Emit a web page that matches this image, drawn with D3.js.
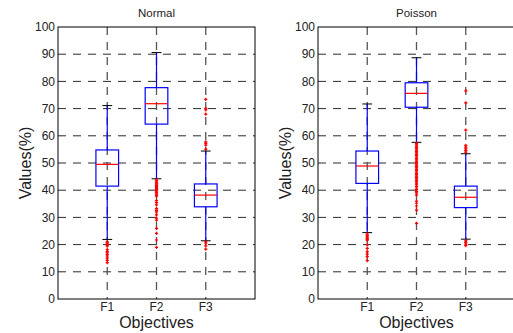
<!DOCTYPE html>
<html>
<head>
<meta charset="utf-8">
<script src="https://cdn.jsdelivr.net/npm/d3@7"></script>
<style>
  body { margin: 0; background: #fff; }
  svg { display: block; font-family: "Liberation Sans", Arial, sans-serif; }
</style>
</head>
<body>
<svg id="chart" width="513" height="333"></svg>
<script>
// categories and tick labels
const categories = ["F1", "F2", "F3"];
const yTicks = [0, 10, 20, 30, 40, 50, 60, 70, 80, 90, 100];
const panelTitles = ["Normal", "Poisson"];

// box statistics per objective: [lower whisker, Q1, median, Q3, upper whisker]
const normalStats = [
    [21.9, 41.5, 49.5, 54.8, 71.1],
    [44.2, 64.3, 71.8, 77.7, 90.6],
    [21.4, 33.9, 38.2, 42.3, 54.4]
];
const poissonStats = [
    [24.4, 42.5, 48.9, 54.4, 71.7],
    [57.6, 70.5, 75.6, 79.5, 88.7],
    [22.0, 33.6, 37.4, 41.5, 53.4]
];

// outliers per objective
const normalOutliers = [
    [21.0, 20.6, 20.2, 19.8, 19.4, 18.2, 17.5, 17.0, 16.4, 15.8, 15.0, 14.2, 13.4],
    [43.8, 43.4, 43.0, 42.6, 42.2, 41.8, 41.4, 41.0, 40.6, 40.2, 39.8, 39.4, 39.0,
     38.6, 38.2, 37.8, 36.2, 35.4, 34.6, 33.2, 32.6, 32.0, 30.9, 29.7, 29.0, 26.0,
     24.1, 21.7, 19.0],
    [73.4, 70.1, 69.5, 68.0, 57.8, 57.2, 56.6, 55.1, 21.0, 20.5, 19.5, 18.3]
];
const poissonOutliers = [
    [23.9, 23.5, 23.1, 22.7, 22.3, 21.9, 21.6, 19.9, 18.6, 17.4, 16.5, 15.6, 14.1],
    [57.2, 56.7, 56.2, 55.7, 55.2, 54.7, 54.2, 53.7, 53.2, 52.7, 52.2, 51.7, 51.2,
     50.7, 50.2, 49.7, 49.2, 48.7, 48.2, 47.7, 47.2, 46.7, 46.2, 45.7, 45.2, 44.7,
     44.2, 43.7, 43.2, 42.6, 42.0, 41.4, 40.8, 40.2, 39.6, 39.0, 38.2, 36.0, 35.2,
     34.2, 32.7, 27.8],
    [76.5, 72.1, 62.1, 56.5, 55.8, 55.2, 54.6, 54.0, 21.4, 20.8, 20.2, 19.6]
];

const svg = d3.select("#chart");
const plotW = 197, plotTop = 27, plotBottom = 299;

const y = d3.scaleLinear().domain([0, 100]).range([plotBottom, plotTop]);

function drawPanel(left, title, stats, outliers) {
    const x = d3.scaleLinear().domain([0, 4]).range([left, left + plotW]);
    const g = svg.append("g");

    // dashed grid lines
    g.selectAll(".hgrid")
        .data(yTicks.filter(d => d > 0 && d < 100))
        .enter().append("line")
        .attr("x1", left).attr("x2", left + plotW)
        .attr("y1", d => y(d)).attr("y2", d => y(d))
        .attr("stroke", "#2a2a2a").attr("stroke-dasharray", "8,7");
    g.selectAll(".vgrid")
        .data([1, 2, 3])
        .enter().append("line")
        .attr("x1", d => x(d)).attr("x2", d => x(d))
        .attr("y1", plotTop).attr("y2", plotBottom)
        .attr("stroke", "#555").attr("stroke-width", 1.3).attr("stroke-dasharray", "8,7");

    const boxW = 0.46, capW = 0.2;
    stats.forEach((s, i) => {
        const cx = x(i + 1);
        const hw = (x(boxW) - x(0)) / 2;
        const cw = (x(capW) - x(0)) / 2;
        // whiskers
        g.append("line").attr("x1", cx).attr("x2", cx)
            .attr("y1", y(s[0])).attr("y2", y(s[1]))
            .attr("stroke", "#0000ff").attr("stroke-width", 1.2);
        g.append("line").attr("x1", cx).attr("x2", cx)
            .attr("y1", y(s[3])).attr("y2", y(s[4]))
            .attr("stroke", "#0000ff").attr("stroke-width", 1.2);
        // caps
        [s[0], s[4]].forEach(v => {
            g.append("line").attr("x1", cx - cw).attr("x2", cx + cw)
                .attr("y1", y(v)).attr("y2", y(v))
                .attr("stroke", "#000").attr("stroke-width", 1);
        });
        // box
        g.append("rect")
            .attr("x", cx - hw).attr("y", y(s[3]))
            .attr("width", 2 * hw).attr("height", y(s[1]) - y(s[3]))
            .attr("fill", "none").attr("stroke", "#0000ff").attr("stroke-width", 1.2);
        // median
        g.append("line").attr("x1", cx - hw).attr("x2", cx + hw)
            .attr("y1", y(s[2])).attr("y2", y(s[2]))
            .attr("stroke", "#ff0000").attr("stroke-width", 1.2);
        // outliers as red plus markers
        g.selectAll(null)
            .data(outliers[i])
            .enter().append("path")
            .attr("d", d => `M${cx - 1.6},${y(d)}H${cx + 1.6}M${cx},${y(d) - 1.6}V${y(d) + 1.6}`)
            .attr("stroke", "#ff0000").attr("stroke-width", 1.2);
    });

    // frame
    g.append("rect")
        .attr("x", left).attr("y", plotTop)
        .attr("width", plotW).attr("height", plotBottom - plotTop)
        .attr("fill", "none").attr("stroke", "#000").attr("stroke-width", 1);

    // y tick labels
    g.selectAll(".ylab")
        .data(yTicks)
        .enter().append("text")
        .attr("x", left - 3).attr("y", d => y(d))
        .attr("dy", "0.35em")
        .attr("text-anchor", "end")
        .attr("font-size", 12).attr("fill", "#222")
        .text(d => d);

    // x tick labels
    g.selectAll(".xlab")
        .data(categories)
        .enter().append("text")
        .attr("x", (d, i) => x(i + 1)).attr("y", 311)
        .attr("text-anchor", "middle")
        .attr("font-size", 12).attr("fill", "#222")
        .text(d => d);

    // title and axis labels
    g.append("text")
        .attr("x", left + plotW / 2).attr("y", 17)
        .attr("text-anchor", "middle").attr("font-size", 11.5).attr("fill", "#222")
        .text(title);
    g.append("text")
        .attr("x", left + plotW / 2).attr("y", 328)
        .attr("text-anchor", "middle").attr("font-size", 16).attr("fill", "#222")
        .text("Objectives");
    g.append("text")
        .attr("transform", `translate(${left - 27},${(plotTop + plotBottom) / 2}) rotate(-90)`)
        .attr("text-anchor", "middle").attr("font-size", 16).attr("fill", "#222")
        .text("Values(%)");
}

drawPanel(58, panelTitles[0], normalStats, normalOutliers);
drawPanel(318, panelTitles[1], poissonStats, poissonOutliers);
</script>
</body>
</html>
